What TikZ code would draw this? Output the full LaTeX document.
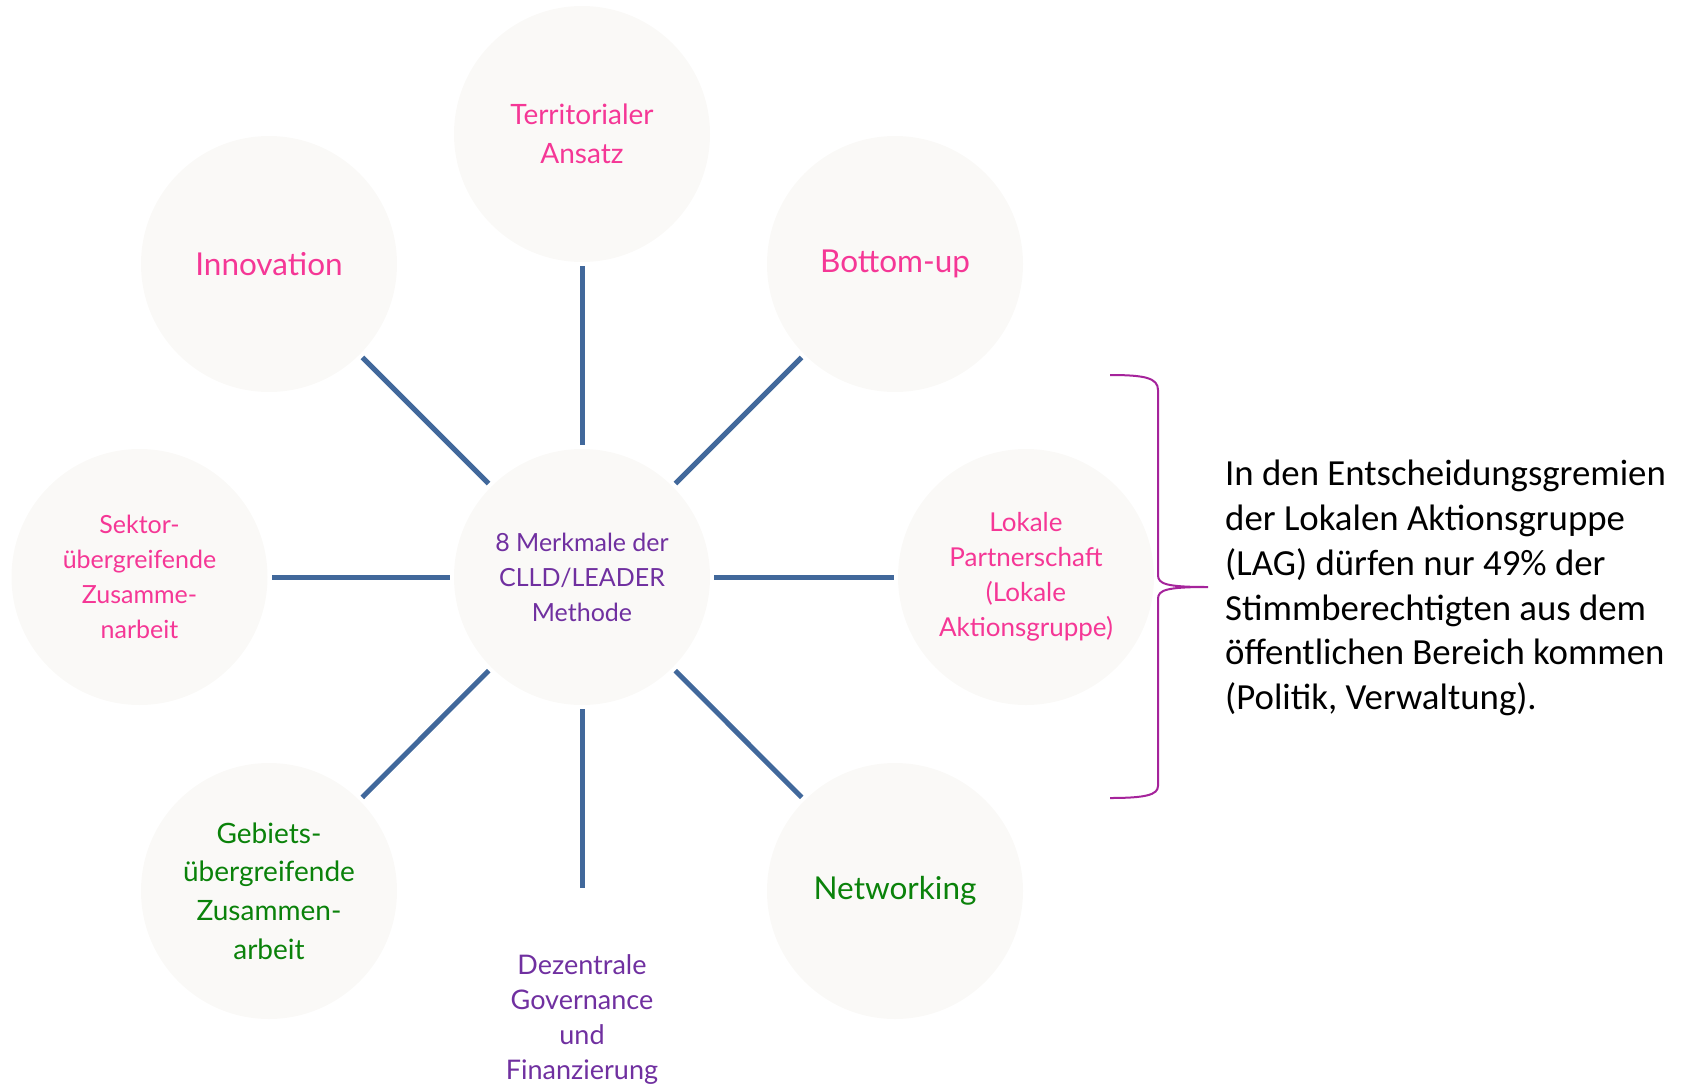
\documentclass[tikz,border=0pt]{standalone}
\usepackage{fontspec}
\setmainfont{Lato}
\newfontfamily\notefont{Carlito}
\definecolor{bubblefill}{RGB}{250,249,247}
\definecolor{spokeblue}{RGB}{65,104,155}
\definecolor{pinktext}{RGB}{245,55,150}
\definecolor{purpletext}{RGB}{112,48,160}
\definecolor{greentext}{RGB}{10,130,10}
\definecolor{bracecol}{RGB}{165,35,155}
\begin{document}
\begin{tikzpicture}[x=1pt,y=-1pt,
  bubble/.style={circle, fill=bubblefill, minimum size=256pt, inner sep=0pt, align=center},
  hollow/.style={circle, minimum size=256pt, inner sep=0pt, align=center},
  spoke/.style={draw=spokeblue, line width=5pt, shorten >=4pt, shorten <=4pt},
  big/.style={font=\fontsize{31.5}{38.8}\selectfont},
  mid/.style={font=\fontsize{28}{38.8}\selectfont},
  small/.style={font=\fontsize{25}{35}\selectfont},
  bracket/.style={draw=bracecol, line width=2pt}]
\useasboundingbox (0,0) rectangle (1689,1087);

% hub and satellites
\node[bubble, small, text=purpletext] (hub) at (582,577) {8 Merkmale der\\CLLD/LEADER\\Methode};
\node[bubble, mid, text=pinktext] (terr) at (582,134) {Territorialer\\Ansatz};
\node[bubble, big, text=pinktext] (inno) at (269,264) {Innovation};
\node[bubble, big, text=pinktext] (bott) at (895,264) {Bottom-up};
\node[bubble, small, text=pinktext] (sekt) at (139.5,577) {Sektor-\\übergreifende\\Zusamme-\\narbeit};
\node[bubble, font=\fontsize{26}{35}\selectfont, text=pinktext] (lokal) at (1026,577) {Lokale\\Partnerschaft\\(Lokale\\Aktionsgruppe)};
\node[bubble, mid, text=greentext] (gebiet) at (269,891) {Gebiets-\\übergreifende\\Zusammen-\\arbeit};
\node[bubble, big, text=greentext] (netz) at (895,891) {Networking};
\node[hollow, font=\fontsize{27}{35}\selectfont, text=purpletext] (dez) at (582,1020) {Dezentrale\\Governance\\und\\Finanzierung};

% spokes
\foreach \n in {terr,inno,bott,sekt,lokal,gebiet,netz,dez}
  \draw[spoke] (hub) -- (\n);

% brace and note
\coordinate (btop) at (1110,375);
\coordinate (btip) at (1208,587);
\coordinate (bbot) at (1110,798);
\draw[bracket] (btop) .. controls (1145,375) and (1158,378) .. (1158,390)
  -- (1158,575) .. controls (1158,584) and (1166,587) .. (btip)
  .. controls (1166,587) and (1158,590) .. (1158,599)
  -- (1158,786) .. controls (1158,795) and (1145,798) .. (bbot);
\node[anchor=north west, inner sep=0pt, align=left, font=\notefont\fontsize{36.8}{44.8}\selectfont] (note) at (1225,460)
  {In den Entscheidungsgremien\\der Lokalen Aktionsgruppe\\(LAG) dürfen nur 49\% der\\Stimmberechtigten aus dem\\öffentlichen Bereich kommen\\(Politik, Verwaltung).};
\end{tikzpicture}
\end{document}
